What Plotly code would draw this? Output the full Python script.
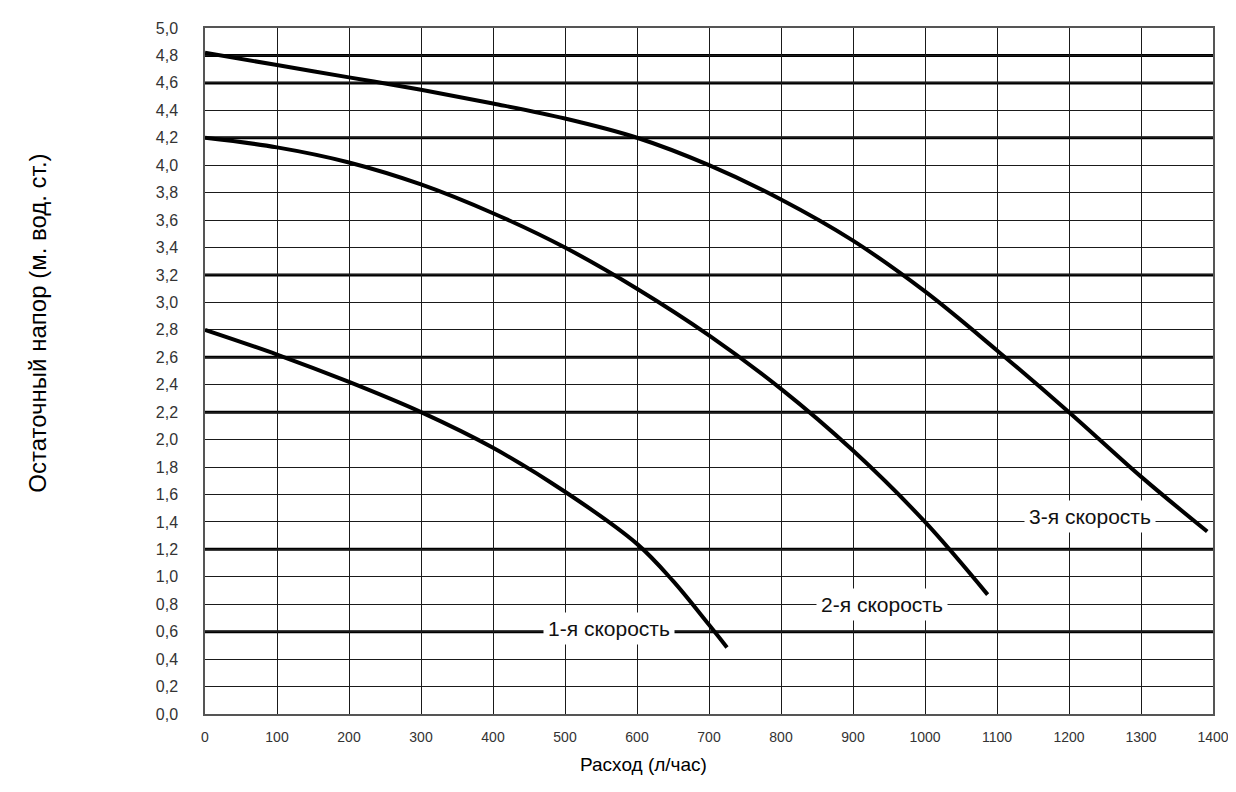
import plotly.graph_objects as go

# ---- data ----
flow_1 = [0, 100, 200, 300, 400, 500, 600, 650, 700, 725]
head_1 = [2.80, 2.62, 2.42, 2.20, 1.94, 1.62, 1.24, 0.97, 0.65, 0.485]

flow_2 = [0, 100, 200, 300, 400, 500, 600, 700, 800, 900, 1000, 1087]
head_2 = [4.20, 4.13, 4.02, 3.86, 3.65, 3.40, 3.10, 2.76, 2.37, 1.92, 1.40, 0.87]

flow_3 = [0, 100, 200, 300, 400, 500, 600, 700, 800, 900, 1000, 1100, 1200, 1300, 1392]
head_3 = [4.82, 4.73, 4.64, 4.55, 4.45, 4.34, 4.20, 4.00, 3.75, 3.45, 3.08, 2.65, 2.20, 1.73, 1.33]

series_names = ["1-я скорость", "2-я скорость", "3-я скорость"]
label_flow = [561, 940, 1229]
label_head = [0.62, 0.80, 1.44]

x_tick_vals = [0, 100, 200, 300, 400, 500, 600, 700, 800, 900, 1000, 1100, 1200, 1300, 1400]
x_tick_text = ["0", "100", "200", "300", "400", "500", "600", "700", "800", "900",
               "1000", "1100", "1200", "1300", "1400"]
y_tick_vals = [0.0, 0.2, 0.4, 0.6, 0.8, 1.0, 1.2, 1.4, 1.6, 1.8, 2.0, 2.2, 2.4, 2.6,
               2.8, 3.0, 3.2, 3.4, 3.6, 3.8, 4.0, 4.2, 4.4, 4.6, 4.8, 5.0]
y_tick_text = ["0,0", "0,2", "0,4", "0,6", "0,8", "1,0", "1,2", "1,4", "1,6", "1,8",
               "2,0", "2,2", "2,4", "2,6", "2,8", "3,0", "3,2", "3,4", "3,6", "3,8",
               "4,0", "4,2", "4,4", "4,6", "4,8", "5,0"]
thick_grid_heads = [4.8, 4.6, 4.2, 3.2, 2.6, 2.2, 1.2, 0.6]

x_title = "Расход (л/час)"
y_title = "Остаточный напор (м. вод. ст.)"

FONT = "Liberation Sans, Arial, sans-serif"

fig = go.Figure()
for fx, hy, name in [(flow_1, head_1, series_names[0]),
                     (flow_2, head_2, series_names[1]),
                     (flow_3, head_3, series_names[2])]:
    fig.add_trace(go.Scatter(
        x=fx, y=hy, mode="lines", name=name,
        line=dict(color="#000000", width=4, shape="spline", smoothing=1.0),
        showlegend=False, hoverinfo="skip"))

for h in thick_grid_heads:
    fig.add_shape(type="line", xref="paper", yref="y", x0=0, x1=1, y0=h, y1=h,
                  line=dict(color="#000000", width=3), layer="below")

for name, lx, ly in zip(series_names, label_flow, label_head):
    fig.add_annotation(x=lx, y=ly, xref="x", yref="y", text=name, showarrow=False,
                       font=dict(family=FONT, size=21, color="#111111"),
                       bgcolor="#ffffff", borderpad=4)

fig.add_annotation(x=0.435, y=-0.074, xref="paper", yref="paper", text=x_title,
                   showarrow=False, font=dict(family=FONT, size=19, color="#000000"),
                   xanchor="center", yanchor="middle")
fig.add_annotation(x=-0.166, y=0.57, xref="paper", yref="paper", text=y_title,
                   showarrow=False, textangle=-90,
                   font=dict(family=FONT, size=24, color="#000000"),
                   xanchor="center", yanchor="middle")

fig.update_layout(
    width=1236, height=792,
    margin=dict(l=197, r=31, t=15, b=86),
    paper_bgcolor="#ffffff", plot_bgcolor="#ffffff",
    font=dict(family=FONT, color="#333333"),
    xaxis=dict(range=[0, 1400], tickvals=x_tick_vals, ticktext=x_tick_text,
               showgrid=True, gridcolor="#1a1a1a", gridwidth=1.3,
               zeroline=False, showline=True, linecolor="#555555", linewidth=1.5,
               mirror=True, ticks="", ticklabelstandoff=9,
               tickfont=dict(family=FONT, size=14, color="#333333"), fixedrange=True),
    yaxis=dict(range=[0, 5], tickvals=y_tick_vals, ticktext=y_tick_text,
               showgrid=True, gridcolor="#1a1a1a", gridwidth=1.3,
               zeroline=False, showline=True, linecolor="#555555", linewidth=1.5,
               mirror=True, ticks="", ticklabelstandoff=22,
               tickfont=dict(family=FONT, size=16, color="#333333"), fixedrange=True),
)

fig.write_html("out.html")
